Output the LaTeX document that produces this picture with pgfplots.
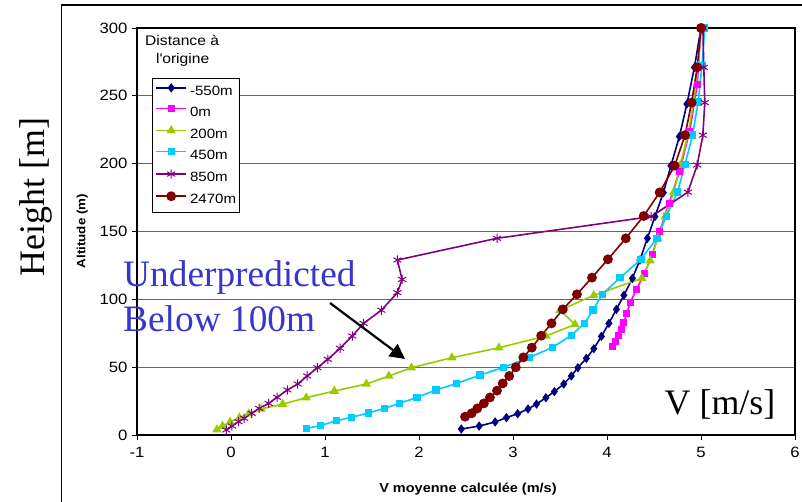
\documentclass[border=0pt]{standalone}
\usepackage{pgfplots}
\pgfplotsset{compat=1.18}
\usetikzlibrary{arrows.meta}
\usepackage{fontspec}
\setmainfont{Liberation Sans}[FakeStretch=1.12]
\newfontfamily\timesf{Liberation Serif}

\definecolor{cnavy}{RGB}{0,0,128}
\definecolor{cpink}{RGB}{255,0,255}
\definecolor{cgreen}{RGB}{153,204,0}
\definecolor{ccyan}{RGB}{0,204,255}
\definecolor{cpurple}{RGB}{128,0,128}
\definecolor{cdred}{RGB}{128,0,0}
\definecolor{annblue}{RGB}{55,55,205}

\begin{document}
\begin{tikzpicture}
\path[use as bounding box] (0,0) rectangle (802bp,-502bp);
% chart area frame
\draw[line width=1.2bp] (61.5bp,-520bp) -- (61.5bp,-5bp) -- (820bp,-5bp);

\begin{axis}[
    at={(137bp,-435bp)}, anchor=south west,
    scale only axis, width=658bp, height=407bp,
    xmin=-1, xmax=6, ymin=0, ymax=300,
    xtick={-1,0,...,6}, xticklabels={-1,0,1,2,3,4,5,6},
    ytick={0,50,...,300}, yticklabels={0,50,100,150,200,250,300},
    xtick pos=left, ytick pos=left,
    tick align=outside, major tick length=5bp,
    tick style={black, line width=1bp},
    axis line style={line width=1.2bp},
    ymajorgrids, grid style={black!60, line width=1bp},
    tick label style={font=\fontsize{15}{17}\selectfont},
    xticklabel style={yshift=-4bp},
    yticklabel style={xshift=-1bp},
    clip=false,
    xlabel={V moyenne calculée (m/s)},
    ylabel={Altitude (m)},
    xlabel style={at={(axis description cs:0.503,-0.133)}, anchor=center, font=\bfseries\fontsize{13}{15}\selectfont},
    ylabel style={at={(axis description cs:-0.083,0.501)}, anchor=center, font=\bfseries\fontsize{12}{14}\selectfont},
    every axis plot/.append style={line width=1.6bp},
    legend style={at={(0.0228,0.877)}, anchor=north west, draw=black, line width=0.8bp,
        fill=white, font=\fontsize{13.5}{15}\selectfont, inner xsep=3bp, inner ysep=6bp,
        nodes={inner sep=0pt, text height=9.5bp, text depth=2bp}, row sep=8.3bp},
    legend cell align=left,
    /tikz/every odd column/.append style={column sep=3bp},
    legend image code/.code={\draw[mark repeat=2,mark phase=2,#1] plot coordinates {(0bp,4bp) (15bp,4bp) (30bp,4bp)};},
]

\addplot[color=cnavy, mark=diamond*, mark size=3.4bp] coordinates {
(2.45,4.4)(2.64,6.6)(2.81,9.6)(2.93,12.8)(3.05,15.7)(3.16,19.2)(3.25,22.8)(3.35,27.5)
(3.44,32)(3.54,37.6)(3.62,43.5)(3.69,49.6)(3.78,56.5)(3.86,63.6)(3.94,72.7)(4.02,82.3)
(4.10,92.6)(4.18,103)(4.27,115.5)(4.35,129)(4.43,145)(4.51,161)(4.60,178.6)(4.68,198.5)
(4.77,220)(4.85,244)(4.93,271)(5.0,300)};
\addlegendentry{-550m}

\addplot[color=cpink, mark=square*, mark size=2.7bp] coordinates {
(4.06,65)(4.09,69)(4.12,73)(4.15,77.5)(4.18,83)(4.21,89.5)(4.25,98)(4.31,107)(4.40,119)
(4.48,133)(4.56,150)(4.66,171)(4.77,194)(4.88,224)(4.96,258)(5.0,300)};
\addlegendentry{0m}

\addplot[color=cgreen, mark=triangle*, mark size=3.8bp] coordinates {
(-0.15,4)(-0.09,6.6)(-0.01,9.6)(0.09,12.8)(0.19,15.7)(0.32,19.2)(0.55,22.8)(0.80,27.5)
(1.10,32.4)(1.44,37.6)(1.68,43.5)(1.92,49.6)(2.35,57)(2.85,64.3)(3.35,73)(3.66,81.5)
(3.50,92)(3.86,103)(4.37,115.5)(4.46,128.5)(4.54,145)(4.62,161)(4.71,179)(4.78,199)
(4.86,221)(4.92,245)(4.97,272)(5.0,300)};
\addlegendentry{200m}

\addplot[color=ccyan, mark=square*, mark size=2.9bp] coordinates {
(0.80,4.9)(0.95,6.9)(1.12,10.5)(1.28,13)(1.46,16.2)(1.63,19.6)(1.79,23.3)(1.98,27.7)
(2.18,33.2)(2.40,38)(2.65,44.2)(2.90,49.9)(3.17,57)(3.42,64.6)(3.62,73.5)(3.76,82.3)
(3.85,92)(3.95,103.7)(4.14,116)(4.36,129.5)(4.53,145)(4.63,161)(4.75,179)(4.83,199.5)
(4.91,221)(4.97,245.5)(5.01,272)(5.04,300)};
\addlegendentry{450m}

\addplot[color=cpurple, mark=asterisk, mark size=4.6bp, mark options={line width=1bp}] coordinates {
(-0.05,3.7)(0.01,6.6)(0.08,9.8)(0.14,12.3)(0.22,16)(0.30,19.6)(0.40,23.3)(0.49,27.8)
(0.60,33.2)(0.71,37.6)(0.81,43.5)(0.92,49.6)(1.03,55.8)(1.16,63.9)(1.29,73)(1.41,82.3)
(1.60,92)(1.77,104.9)(1.82,114.7)(1.77,129)(2.83,145)(4.47,161)(4.86,179)(4.96,199)
(5.02,221)(5.04,245)(5.03,271)(5.02,300)};
\addlegendentry{850m}

\addplot[color=cdred, mark=*, mark size=4.1bp] coordinates {
(2.49,13.5)(2.56,16)(2.62,19.6)(2.69,23.3)(2.755,27.7)(2.83,32.7)(2.89,38)(2.96,43.5)
(3.03,49.9)(3.11,57.2)(3.20,64.4)(3.30,73.2)(3.41,82.3)(3.53,92.6)(3.68,103.7)(3.84,116)
(4.01,129.5)(4.20,145)(4.39,161.4)(4.56,178.8)(4.72,198.5)(4.83,221)(4.90,245)(4.96,271)
(5.0,300)};
\addlegendentry{2470m}
\end{axis}

% legend title
\node[anchor=west, inner sep=0, font=\fontsize{14}{16}\selectfont] at (145bp,-40bp) {Distance à};
\node[anchor=west, inner sep=0, font=\fontsize{14}{16}\selectfont] at (156bp,-60bp) {l\textquotesingle origine};

% annotations
\node[anchor=base west, inner sep=0, text=annblue, font=\timesf\fontsize{37.5}{45}\selectfont] at (123bp,-286.7bp) {Underpredicted};
\node[anchor=base west, inner sep=0, text=annblue, font=\timesf\fontsize{37.5}{45}\selectfont] at (123bp,-331.7bp) {Below 100m};
\draw[line width=2.2bp, -{Triangle[length=15bp,width=15bp]}] (330bp,-303bp) -- (405bp,-359bp);
\node[rotate=90, inner sep=0, font=\timesf\fontsize{36}{40}\selectfont] at (36bp,-197bp) {Height [m]};
\node[anchor=base, inner sep=0, font=\timesf\fontsize{36}{40}\selectfont] at (720bp,-414bp) {V [m/s]};
\end{tikzpicture}
\end{document}
